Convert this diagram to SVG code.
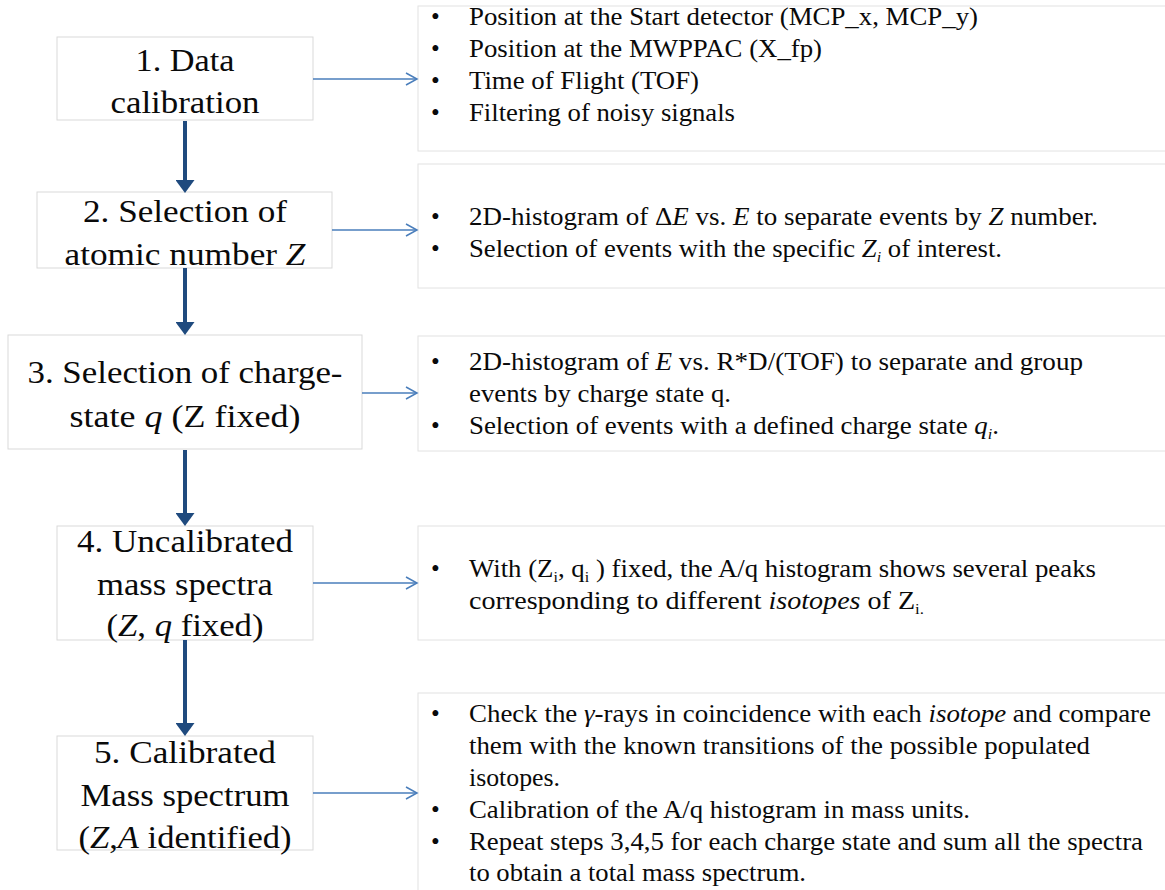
<svg xmlns="http://www.w3.org/2000/svg" width="1165" height="890" viewBox="0 0 1165 890">
<defs>
<style>
.box{fill:#ffffff;stroke:#d9d9d9;stroke-width:1}
.panel{fill:#ffffff;stroke:#e2e2e2;stroke-width:1}
.lt{font-family:'Liberation Serif','Times New Roman',serif;font-size:32.5px;fill:#0a0a0a;text-anchor:middle}
.rt{font-family:'Liberation Serif','Times New Roman',serif;font-size:25px;fill:#0a0a0a}
.it{font-style:italic}
.sub{font-size:15px}
.down{stroke:#1f4a7e;stroke-width:4;fill:none}
.side{stroke:#4a7ebb;stroke-width:1.5;fill:none}
</style>
<marker id="headDown" markerUnits="userSpaceOnUse" viewBox="0 0 13 19" refX="0" refY="9.5" markerWidth="13" markerHeight="19" orient="auto">
<path d="M0,0 L13,9.5 L0,19 Z" fill="#1f4a7e"/>
</marker>
<marker id="headSide" markerUnits="userSpaceOnUse" viewBox="0 0 14 14" refX="12" refY="7" markerWidth="14" markerHeight="14" orient="auto">
<path d="M1,1 L12,7 L1,13" fill="none" stroke="#4a7ebb" stroke-width="1.5"/>
</marker>
</defs>
<rect width="1165" height="890" fill="#ffffff"/>

<!-- right panels -->
<g id="panel1">
<rect class="panel" x="418" y="6" width="760" height="145"/>
<text class="rt" x="431" y="25">•</text>
<text class="rt" x="469" y="25" textLength="509" lengthAdjust="spacingAndGlyphs">Position at the Start detector (MCP_x, MCP_y)</text>
<text class="rt" x="431" y="57">•</text>
<text class="rt" x="469" y="57" textLength="353" lengthAdjust="spacingAndGlyphs">Position at the MWPPAC (X_fp)</text>
<text class="rt" x="431" y="89">•</text>
<text class="rt" x="469" y="89" textLength="230" lengthAdjust="spacingAndGlyphs">Time of Flight (TOF)</text>
<text class="rt" x="431" y="121">•</text>
<text class="rt" x="469" y="121" textLength="266" lengthAdjust="spacingAndGlyphs">Filtering of noisy signals</text>
</g>
<g id="panel2">
<rect class="panel" x="418" y="164" width="760" height="124"/>
<text class="rt" x="431" y="225">•</text>
<text class="rt" x="469" y="225" textLength="629" lengthAdjust="spacingAndGlyphs">2D-histogram of Δ<tspan class="it">E</tspan> vs. <tspan class="it">E</tspan>  to separate events by <tspan class="it">Z</tspan> number.</text>
<text class="rt" x="431" y="257">•</text>
<text class="rt" x="469" y="257" textLength="533" lengthAdjust="spacingAndGlyphs">Selection of events with the specific <tspan class="it">Z</tspan><tspan class="it sub" dy="5">i</tspan><tspan dy="-5"> of interest.</tspan></text>
</g>
<g id="panel3">
<rect class="panel" x="418" y="336" width="760" height="115"/>
<text class="rt" x="431" y="370">•</text>
<text class="rt" x="469" y="370" textLength="614" lengthAdjust="spacingAndGlyphs">2D-histogram  of <tspan class="it">E</tspan> vs. R*D/(TOF) to separate and group</text>
<text class="rt" x="469" y="402" textLength="262" lengthAdjust="spacingAndGlyphs">events by charge state q.</text>
<text class="rt" x="431" y="434">•</text>
<text class="rt" x="469" y="434" textLength="530" lengthAdjust="spacingAndGlyphs">Selection of events with a defined charge state <tspan class="it">q</tspan><tspan class="it sub" dy="5">i</tspan><tspan dy="-5">.</tspan></text>
</g>
<g id="panel4">
<rect class="panel" x="418" y="526" width="760" height="114"/>
<text class="rt" x="431" y="577">•</text>
<text class="rt" x="469" y="577" textLength="627" lengthAdjust="spacingAndGlyphs">With (Z<tspan class="sub" dy="5">i</tspan><tspan dy="-5">, q</tspan><tspan class="sub" dy="5">i</tspan><tspan dy="-5"> ) fixed, the A/q histogram shows several peaks</tspan></text>
<text class="rt" x="469" y="609" textLength="455" lengthAdjust="spacingAndGlyphs">corresponding to different <tspan class="it">isotopes</tspan> of  Z<tspan class="sub" dy="5">i.</tspan></text>
</g>
<g id="panel5">
<rect class="panel" x="418" y="693" width="760" height="210"/>
<text class="rt" x="431" y="722">•</text>
<text class="rt" x="469" y="722" textLength="682" lengthAdjust="spacingAndGlyphs">Check the <tspan class="it">γ</tspan>-rays in coincidence with each <tspan class="it">isotope</tspan> and compare</text>
<text class="rt" x="469" y="754" textLength="621" lengthAdjust="spacingAndGlyphs">them with the known transitions of the possible populated</text>
<text class="rt" x="469" y="786" textLength="91" lengthAdjust="spacingAndGlyphs">isotopes.</text>
<text class="rt" x="431" y="818">•</text>
<text class="rt" x="469" y="818" textLength="501" lengthAdjust="spacingAndGlyphs">Calibration of the A/q histogram in mass units.</text>
<text class="rt" x="431" y="850">•</text>
<text class="rt" x="469" y="850" textLength="674" lengthAdjust="spacingAndGlyphs">Repeat steps 3,4,5 for each charge state and sum all the spectra</text>
<text class="rt" x="469" y="881" textLength="337" lengthAdjust="spacingAndGlyphs">to obtain a total mass spectrum.</text>
</g>

<!-- left step boxes -->
<g id="step1">
<rect class="box" x="57" y="37" width="256" height="83"/>
<text class="lt" x="185" y="71" textLength="99" lengthAdjust="spacingAndGlyphs">1. Data</text>
<text class="lt" x="185" y="113" textLength="149" lengthAdjust="spacingAndGlyphs">calibration</text>
</g>
<g id="step2">
<rect class="box" x="37" y="192" width="295" height="76"/>
<text class="lt" x="185" y="222" textLength="204" lengthAdjust="spacingAndGlyphs">2. Selection of</text>
<text class="lt" x="185" y="265" textLength="241" lengthAdjust="spacingAndGlyphs">atomic number <tspan class="it">Z</tspan></text>
</g>
<g id="step3">
<rect class="box" x="8" y="335" width="354" height="114"/>
<text class="lt" x="185" y="383" textLength="315" lengthAdjust="spacingAndGlyphs">3. Selection of charge-</text>
<text class="lt" x="185" y="427" textLength="231" lengthAdjust="spacingAndGlyphs">state <tspan class="it">q</tspan>  (Z fixed)</text>
</g>
<g id="step4">
<rect class="box" x="57" y="526" width="256" height="114"/>
<text class="lt" x="185" y="552" textLength="216" lengthAdjust="spacingAndGlyphs">4. Uncalibrated</text>
<text class="lt" x="185" y="595" textLength="176" lengthAdjust="spacingAndGlyphs">mass spectra</text>
<text class="lt" x="185" y="636" textLength="157" lengthAdjust="spacingAndGlyphs">(<tspan class="it">Z</tspan>, <tspan class="it">q</tspan> fixed)</text>
</g>
<g id="step5">
<rect class="box" x="57" y="736" width="256" height="114"/>
<text class="lt" x="185" y="763" textLength="182" lengthAdjust="spacingAndGlyphs">5. Calibrated</text>
<text class="lt" x="185" y="806" textLength="209" lengthAdjust="spacingAndGlyphs">Mass spectrum</text>
<text class="lt" x="185" y="848" textLength="213" lengthAdjust="spacingAndGlyphs">(<tspan class="it">Z</tspan>,<tspan class="it">A</tspan> identified)</text>
</g>

<!-- connectors -->
<g id="connectors">
<line class="down" x1="185" y1="121" x2="185" y2="180" marker-end="url(#headDown)"/>
<line class="down" x1="185" y1="268" x2="185" y2="322" marker-end="url(#headDown)"/>
<line class="down" x1="185" y1="450" x2="185" y2="513" marker-end="url(#headDown)"/>
<line class="down" x1="185" y1="640" x2="185" y2="723" marker-end="url(#headDown)"/>
<line class="side" x1="313" y1="79" x2="417" y2="79" marker-end="url(#headSide)"/>
<line class="side" x1="332" y1="230" x2="417" y2="230" marker-end="url(#headSide)"/>
<line class="side" x1="362" y1="393" x2="417" y2="393" marker-end="url(#headSide)"/>
<line class="side" x1="313" y1="583" x2="417" y2="583" marker-end="url(#headSide)"/>
<line class="side" x1="313" y1="793" x2="417" y2="793" marker-end="url(#headSide)"/>
</g>
</svg>
